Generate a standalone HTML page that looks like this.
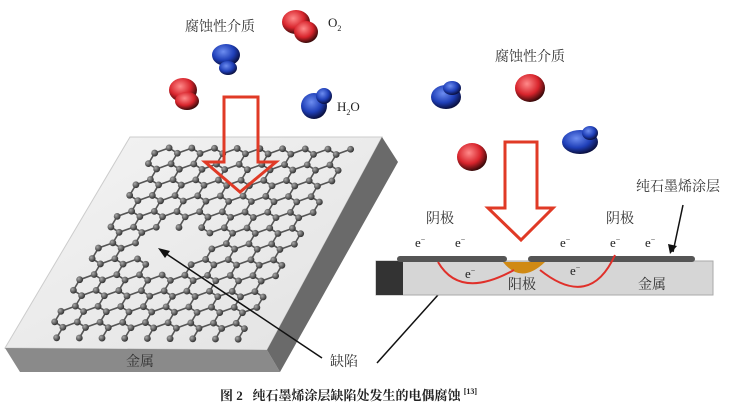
<!DOCTYPE html>
<html><head><meta charset="utf-8"><style>
body{margin:0;background:#fff;width:734px;height:414px;overflow:hidden}
svg{display:block}
text{font-family:"Liberation Serif","Noto Serif CJK SC",serif}
</style></head><body>
<svg id="s" width="734" height="414" viewBox="0 0 734 414" xmlns="http://www.w3.org/2000/svg">
<defs>
<radialGradient id="rg" cx="40%" cy="35%" r="65%"><stop offset="0" stop-color="#ff8a8a"/><stop offset="0.6" stop-color="#d8242c"/><stop offset="1" stop-color="#3a0a0a"/></radialGradient>
<radialGradient id="bg" cx="40%" cy="35%" r="65%"><stop offset="0" stop-color="#6d8df0"/><stop offset="0.6" stop-color="#1f3fb8"/><stop offset="1" stop-color="#0a1040"/></radialGradient>
<radialGradient id="at" cx="35%" cy="35%" r="65%"><stop offset="0" stop-color="#aaa"/><stop offset="1" stop-color="#333"/></radialGradient>
<linearGradient id="top" x1="0" y1="0" x2="1" y2="1"><stop offset="0" stop-color="#f4f4f4"/><stop offset="1" stop-color="#e2e2e2"/></linearGradient>
</defs>
<polygon points="130,137 382,137 267,350 5,348" fill="url(#top)" stroke="#ccc" stroke-width="1"/>
<polygon points="5,348 267,350 280,372 20,372" fill="#8a8a8a"/>
<polygon points="382,137 398,162 280,372 267,350" fill="#6a6a6a"/>
<g id="lat"></g>
<text x="140" y="366" font-size="14" fill="#333" text-anchor="middle">金属</text>
<g>
<ellipse cx="296" cy="22" rx="14" ry="12" fill="url(#rg)"/><ellipse cx="306" cy="32" rx="12" ry="11" fill="url(#rg)"/>
<ellipse cx="226" cy="55" rx="14" ry="11" fill="url(#bg)"/><ellipse cx="228" cy="68" rx="9" ry="7" fill="url(#bg)"/>
<ellipse cx="183" cy="90" rx="14" ry="12" fill="url(#rg)"/><ellipse cx="187" cy="101" rx="12" ry="9" fill="url(#rg)"/>
<ellipse cx="314" cy="106" rx="13" ry="13" fill="url(#bg)"/><ellipse cx="324" cy="96" rx="8" ry="8" fill="url(#bg)"/>
</g>
<text x="185" y="31" font-size="14" fill="#333">腐蚀性介质</text>
<text x="328" y="27" font-size="13" fill="#222">O<tspan font-size="8" dy="4">2</tspan></text>
<text x="337" y="111" font-size="13" fill="#222">H<tspan font-size="8" dy="4">2</tspan><tspan dy="-4">O</tspan></text>
<polygon points="224,97 258,97 258,162 276,162 240,192 205,162 224,162" fill="none" stroke="#e03a26" stroke-width="3"/>
<line x1="322" y1="358" x2="165" y2="253" stroke="#111" stroke-width="1.5"/>
<polygon points="158,248 170,251 165,258" fill="#111"/>
<text x="330" y="366" font-size="14" fill="#333">缺陷</text>
<line x1="377" y1="363" x2="455" y2="276" stroke="#111" stroke-width="1.5"/>
<ellipse cx="446" cy="97" rx="15" ry="12" fill="url(#bg)"/><ellipse cx="452" cy="88" rx="9" ry="7" fill="url(#bg)"/>
<ellipse cx="530" cy="88" rx="15" ry="14" fill="url(#rg)"/>
<ellipse cx="472" cy="157" rx="15" ry="14" fill="url(#rg)"/>
<ellipse cx="580" cy="142" rx="18" ry="12" fill="url(#bg)"/><ellipse cx="590" cy="133" rx="8" ry="7" fill="url(#bg)"/>
<text x="495" y="61" font-size="14" fill="#333">腐蚀性介质</text>
<polygon points="505,142 537,142 537,208 553,208 521,240 488,208 505,208" fill="none" stroke="#e03a26" stroke-width="3"/>
<rect x="376" y="261" width="337" height="34" fill="#d6d6d6" stroke="#aaa"/>
<rect x="376" y="261" width="27" height="34" fill="#333"/>
<rect x="397" y="256" width="110" height="6" rx="3" fill="#555"/>
<rect x="528" y="256" width="167" height="6" rx="3" fill="#555"/>
<path d="M503,262 Q521,285 545,262 Z" fill="#d08a14"/>
<path d="M438,262 Q460,300 514,270" fill="none" stroke="#e0302a" stroke-width="2"/>
<path d="M540,270 Q590,310 615,255" fill="none" stroke="#e0302a" stroke-width="2"/>
<line x1="683" y1="205" x2="673" y2="252" stroke="#111" stroke-width="1.5"/>
<polygon points="670,254 668,244 677,246" fill="#111"/>
<g font-size="14" fill="#333">
<text x="426" y="223">阴极</text><text x="606" y="223">阴极</text>
<text x="636" y="191">纯石墨烯涂层</text>
<text x="508" y="289">阳极</text><text x="638" y="289">金属</text>
</g>
<g font-size="13" fill="#222">
<text x="415" y="247">e<tspan font-size="8" dy="-5">−</tspan></text>
<text x="455" y="247">e<tspan font-size="8" dy="-5">−</tspan></text>
<text x="560" y="247">e<tspan font-size="8" dy="-5">−</tspan></text>
<text x="610" y="247">e<tspan font-size="8" dy="-5">−</tspan></text>
<text x="645" y="247">e<tspan font-size="8" dy="-5">−</tspan></text>
<text x="465" y="278">e<tspan font-size="8" dy="-5">−</tspan></text>
<text x="570" y="275">e<tspan font-size="8" dy="-5">−</tspan></text>
</g>
<text x="220" y="400" font-size="13" font-weight="bold" fill="#222" font-family="Liberation Sans, Noto Sans CJK SC, sans-serif">图 2 &#160; 纯石墨烯涂层缺陷处发生的电偶腐蚀 <tspan font-size="8" dy="-6">[13]</tspan></text>
</svg>
<script>
(function(){
var g=document.getElementById('lat'),NS='http://www.w3.org/2000/svg';
var O=[5,348],U=[262,2],V=[125,-211];
function map(s,t){return [O[0]+s*U[0]+t*V[0],O[1]+s*U[1]+t*V[1]];}
var atoms=[],bonds=[];
var a=0.05, h=a*Math.sqrt(3);
function ok(p){var dx=p[0]-172,dy=p[1]-247;if(dx*dx/1300+dy*dy/380<1)return false;return true;}
var idx={};
function add(s,t){var k=s.toFixed(4)+','+t.toFixed(4);if(idx[k]!==undefined)return idx[k];
 if(s<0.1||s>0.9||t<0.05||t>0.96)return -1;var p=map(s,t);if(!ok(p))return -1;idx[k]=atoms.length;atoms.push(p);return idx[k];}
for(var i=-2;i<30;i++)for(var j=-2;j<20;j++){
 var cs=i*h+(j%2?h/2:0), ct=j*1.5*a;
 var pts=[];for(var k=0;k<6;k++){var an=Math.PI/6+k*Math.PI/3;pts.push([cs+a*Math.cos(an),ct+a*Math.sin(an)]);}
 var ids=pts.map(function(p){return add(p[0],p[1]);});
 for(var k=0;k<6;k++){var x=ids[k],y=ids[(k+1)%6];if(x>=0&&y>=0)bonds.push([x,y]);}
}
var seen={};
bonds.forEach(function(b){var k=Math.min(b[0],b[1])+'_'+Math.max(b[0],b[1]);if(seen[k])return;seen[k]=1;
 var l=document.createElementNS(NS,'line');var p=atoms[b[0]],q=atoms[b[1]];
 l.setAttribute('x1',p[0]);l.setAttribute('y1',p[1]);l.setAttribute('x2',q[0]);l.setAttribute('y2',q[1]);
 l.setAttribute('stroke','#555');l.setAttribute('stroke-width','1.6');g.appendChild(l);});
atoms.forEach(function(p){var c=document.createElementNS(NS,'circle');c.setAttribute('cx',p[0]);c.setAttribute('cy',p[1]);c.setAttribute('r','3.4');c.setAttribute('fill','url(#at)');g.appendChild(c);});
})();
</script>
</body></html>
